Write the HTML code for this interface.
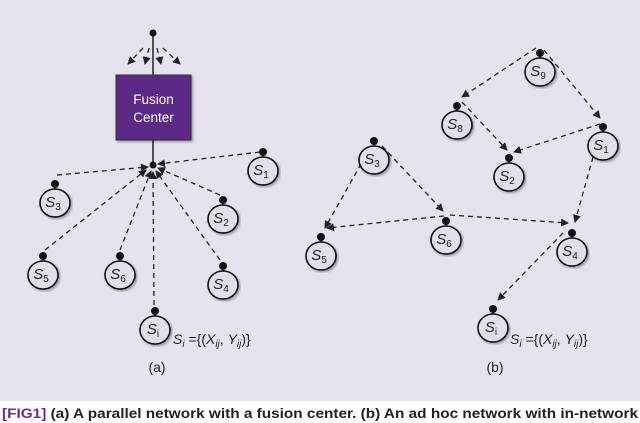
<!DOCTYPE html><html><head><style>body{margin:0;width:640px;height:423px;overflow:hidden;background:#fff}svg{display:block}</style></head><body>
<svg width="640" height="423" viewBox="0 0 640 423" xmlns="http://www.w3.org/2000/svg" font-family="Liberation Sans, sans-serif">
<defs><marker id="a" markerWidth="8" markerHeight="8" refX="7" refY="4" orient="auto" markerUnits="userSpaceOnUse"><path d="M0,0L8,4L0,8z" fill="#222"/></marker>
<filter id="sh"><feDropShadow dx="1.5" dy="1.5" stdDeviation="1.2" flood-opacity="0.35"/></filter></defs>
<rect width="640" height="401" fill="#e6e3ef"/>
<g stroke="#222" stroke-width="1.3" stroke-dasharray="5,4" fill="none" marker-end="url(#a)">
<line x1="143" y1="48" x2="128" y2="64"/><line x1="149" y1="48" x2="145" y2="64"/><line x1="157" y1="48" x2="161" y2="64"/><line x1="163" y1="48" x2="180" y2="64"/>
<line x1="260" y1="152" x2="158" y2="164"/><line x1="57" y1="175" x2="148" y2="167"/><line x1="220" y1="195" x2="158" y2="168"/>
<line x1="45" y1="250" x2="146" y2="170"/><line x1="120" y1="250" x2="151" y2="171"/><line x1="220" y1="260" x2="156" y2="171"/><line x1="154" y1="305" x2="153" y2="172"/>
<line x1="536" y1="48" x2="462" y2="97"/><line x1="544" y1="50" x2="600" y2="118"/><line x1="462" y1="102" x2="507" y2="150"/><line x1="600" y1="124" x2="514" y2="152"/>
<line x1="593" y1="157" x2="575" y2="222"/><line x1="370" y1="148" x2="325" y2="228"/><line x1="382" y1="146" x2="443" y2="211"/>
<line x1="444" y1="216" x2="327" y2="228"/><line x1="450" y1="215" x2="568" y2="223"/><line x1="563" y1="233" x2="498" y2="300"/>
</g>
<line x1="153" y1="36" x2="153" y2="75" stroke="#222" stroke-width="1.5"/>
<line x1="153" y1="140" x2="153" y2="165" stroke="#222" stroke-width="1.5"/>
<rect x="116" y="75" width="75" height="65" fill="#5a2a86" stroke="#333" stroke-width="1" filter="url(#sh)"/>
<text x="153.5" y="104" fill="#fff" font-size="13.5" text-anchor="middle">Fusion</text>
<text x="153.5" y="122" fill="#fff" font-size="13.5" text-anchor="middle">Center</text>
<circle cx="153" cy="33" r="3.5" fill="#111"/><circle cx="153" cy="165" r="3.5" fill="#111"/>
<g>
<g transform="translate(263,171)"><line x1="0" y1="-18" x2="0" y2="-12" stroke="#111" stroke-width="1.5"/><circle cy="-19" r="4" fill="#111"/><ellipse rx="15" ry="14" fill="#e0e0e8" stroke="#111" stroke-width="1.6" filter="url(#sh)"/><text x="-2" y="4" font-size="15" font-style="italic" text-anchor="middle" fill="#222">S<tspan font-size="10" font-style="normal" dy="3">1</tspan></text></g>
<g transform="translate(55,203)"><line x1="0" y1="-18" x2="0" y2="-12" stroke="#111" stroke-width="1.5"/><circle cy="-19" r="4" fill="#111"/><ellipse rx="15" ry="14" fill="#e0e0e8" stroke="#111" stroke-width="1.6" filter="url(#sh)"/><text x="-2" y="4" font-size="15" font-style="italic" text-anchor="middle" fill="#222">S<tspan font-size="10" font-style="normal" dy="3">3</tspan></text></g>
<g transform="translate(223,219)"><line x1="0" y1="-18" x2="0" y2="-12" stroke="#111" stroke-width="1.5"/><circle cy="-19" r="4" fill="#111"/><ellipse rx="15" ry="14" fill="#e0e0e8" stroke="#111" stroke-width="1.6" filter="url(#sh)"/><text x="-2" y="4" font-size="15" font-style="italic" text-anchor="middle" fill="#222">S<tspan font-size="10" font-style="normal" dy="3">2</tspan></text></g>
<g transform="translate(43,275)"><line x1="0" y1="-18" x2="0" y2="-12" stroke="#111" stroke-width="1.5"/><circle cy="-19" r="4" fill="#111"/><ellipse rx="15" ry="14" fill="#e0e0e8" stroke="#111" stroke-width="1.6" filter="url(#sh)"/><text x="-2" y="4" font-size="15" font-style="italic" text-anchor="middle" fill="#222">S<tspan font-size="10" font-style="normal" dy="3">5</tspan></text></g>
<g transform="translate(120,275)"><line x1="0" y1="-18" x2="0" y2="-12" stroke="#111" stroke-width="1.5"/><circle cy="-19" r="4" fill="#111"/><ellipse rx="15" ry="14" fill="#e0e0e8" stroke="#111" stroke-width="1.6" filter="url(#sh)"/><text x="-2" y="4" font-size="15" font-style="italic" text-anchor="middle" fill="#222">S<tspan font-size="10" font-style="normal" dy="3">6</tspan></text></g>
<g transform="translate(223,285)"><line x1="0" y1="-18" x2="0" y2="-12" stroke="#111" stroke-width="1.5"/><circle cy="-19" r="4" fill="#111"/><ellipse rx="15" ry="14" fill="#e0e0e8" stroke="#111" stroke-width="1.6" filter="url(#sh)"/><text x="-2" y="4" font-size="15" font-style="italic" text-anchor="middle" fill="#222">S<tspan font-size="10" font-style="normal" dy="3">4</tspan></text></g>
<g transform="translate(155,330)"><line x1="0" y1="-18" x2="0" y2="-12" stroke="#111" stroke-width="1.5"/><circle cy="-19" r="4" fill="#111"/><ellipse rx="15" ry="14" fill="#e0e0e8" stroke="#111" stroke-width="1.6" filter="url(#sh)"/><text x="-2" y="4" font-size="15" font-style="italic" text-anchor="middle" fill="#222">S<tspan font-size="10" font-style="normal" dy="3">i</tspan></text></g>
<g transform="translate(540,72)"><line x1="0" y1="-18" x2="0" y2="-12" stroke="#111" stroke-width="1.5"/><circle cy="-19" r="4" fill="#111"/><ellipse rx="15" ry="14" fill="#e0e0e8" stroke="#111" stroke-width="1.6" filter="url(#sh)"/><text x="-2" y="4" font-size="15" font-style="italic" text-anchor="middle" fill="#222">S<tspan font-size="10" font-style="normal" dy="3">9</tspan></text></g>
<g transform="translate(457,125)"><line x1="0" y1="-18" x2="0" y2="-12" stroke="#111" stroke-width="1.5"/><circle cy="-19" r="4" fill="#111"/><ellipse rx="15" ry="14" fill="#e0e0e8" stroke="#111" stroke-width="1.6" filter="url(#sh)"/><text x="-2" y="4" font-size="15" font-style="italic" text-anchor="middle" fill="#222">S<tspan font-size="10" font-style="normal" dy="3">8</tspan></text></g>
<g transform="translate(603,146)"><line x1="0" y1="-18" x2="0" y2="-12" stroke="#111" stroke-width="1.5"/><circle cy="-19" r="4" fill="#111"/><ellipse rx="15" ry="14" fill="#e0e0e8" stroke="#111" stroke-width="1.6" filter="url(#sh)"/><text x="-2" y="4" font-size="15" font-style="italic" text-anchor="middle" fill="#222">S<tspan font-size="10" font-style="normal" dy="3">1</tspan></text></g>
<g transform="translate(509,177)"><line x1="0" y1="-18" x2="0" y2="-12" stroke="#111" stroke-width="1.5"/><circle cy="-19" r="4" fill="#111"/><ellipse rx="15" ry="14" fill="#e0e0e8" stroke="#111" stroke-width="1.6" filter="url(#sh)"/><text x="-2" y="4" font-size="15" font-style="italic" text-anchor="middle" fill="#222">S<tspan font-size="10" font-style="normal" dy="3">2</tspan></text></g>
<g transform="translate(374,160)"><line x1="0" y1="-18" x2="0" y2="-12" stroke="#111" stroke-width="1.5"/><circle cy="-19" r="4" fill="#111"/><ellipse rx="15" ry="14" fill="#e0e0e8" stroke="#111" stroke-width="1.6" filter="url(#sh)"/><text x="-2" y="4" font-size="15" font-style="italic" text-anchor="middle" fill="#222">S<tspan font-size="10" font-style="normal" dy="3">3</tspan></text></g>
<g transform="translate(446,240)"><line x1="0" y1="-18" x2="0" y2="-12" stroke="#111" stroke-width="1.5"/><circle cy="-19" r="4" fill="#111"/><ellipse rx="15" ry="14" fill="#e0e0e8" stroke="#111" stroke-width="1.6" filter="url(#sh)"/><text x="-2" y="4" font-size="15" font-style="italic" text-anchor="middle" fill="#222">S<tspan font-size="10" font-style="normal" dy="3">6</tspan></text></g>
<g transform="translate(321,256)"><line x1="0" y1="-18" x2="0" y2="-12" stroke="#111" stroke-width="1.5"/><circle cy="-19" r="4" fill="#111"/><ellipse rx="15" ry="14" fill="#e0e0e8" stroke="#111" stroke-width="1.6" filter="url(#sh)"/><text x="-2" y="4" font-size="15" font-style="italic" text-anchor="middle" fill="#222">S<tspan font-size="10" font-style="normal" dy="3">5</tspan></text></g>
<g transform="translate(572,252)"><line x1="0" y1="-18" x2="0" y2="-12" stroke="#111" stroke-width="1.5"/><circle cy="-19" r="4" fill="#111"/><ellipse rx="15" ry="14" fill="#e0e0e8" stroke="#111" stroke-width="1.6" filter="url(#sh)"/><text x="-2" y="4" font-size="15" font-style="italic" text-anchor="middle" fill="#222">S<tspan font-size="10" font-style="normal" dy="3">4</tspan></text></g>
<g transform="translate(493,328)"><line x1="0" y1="-18" x2="0" y2="-12" stroke="#111" stroke-width="1.5"/><circle cy="-19" r="4" fill="#111"/><ellipse rx="15" ry="14" fill="#e0e0e8" stroke="#111" stroke-width="1.6" filter="url(#sh)"/><text x="-2" y="4" font-size="15" font-style="italic" text-anchor="middle" fill="#222">S<tspan font-size="10" font-style="normal" dy="3">i</tspan></text></g>
</g>
<g font-size="14" fill="#222">
<text x="173" y="344"><tspan font-style="italic">S</tspan><tspan font-size="10" font-style="italic" dy="3">i</tspan><tspan dy="-3"> ={(</tspan><tspan font-style="italic">X</tspan><tspan font-size="10" font-style="italic" dy="3">ij</tspan><tspan dy="-3">,  </tspan><tspan font-style="italic">Y</tspan><tspan font-size="10" font-style="italic" dy="3">ij</tspan><tspan dy="-3">)}</tspan></text>
<text x="510" y="344"><tspan font-style="italic">S</tspan><tspan font-size="10" font-style="italic" dy="3">i</tspan><tspan dy="-3"> ={(</tspan><tspan font-style="italic">X</tspan><tspan font-size="10" font-style="italic" dy="3">ij</tspan><tspan dy="-3">,  </tspan><tspan font-style="italic">Y</tspan><tspan font-size="10" font-style="italic" dy="3">ij</tspan><tspan dy="-3">)}</tspan></text>
<text x="157" y="372" text-anchor="middle">(a)</text>
<text x="495" y="372" text-anchor="middle">(b)</text>
</g>
<text x="2" y="418" font-size="13.5" font-weight="bold" fill="#222" textLength="636" lengthAdjust="spacingAndGlyphs"><tspan fill="#6a2c91">[FIG1]</tspan>  (a) A parallel network with a fusion center. (b) An ad hoc network with in-network</text>
</svg>
</body></html>
